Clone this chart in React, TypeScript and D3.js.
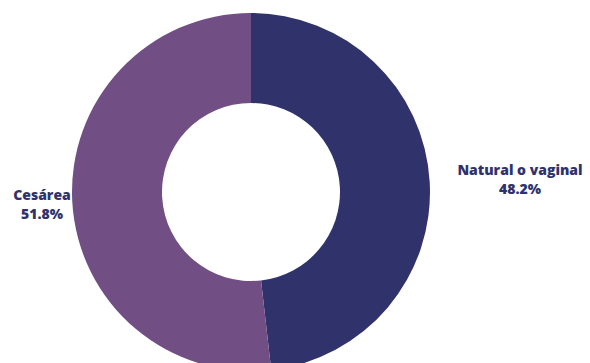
import React from "react";
import * as d3 from "d3";

const categories = ["Natural o vaginal", "Cesárea"];
const values = [48.2, 51.8];
const labels = ["48.2%", "51.8%"];
const colors = ["#30336b", "#714f85"];

export default function App() {
  const width = 590, height = 363;
  const cx = 251, cy = 192, outerR = 179, innerR = 89;
  const pie = d3.pie<number>().sort(null)(values);
  const arc = d3.arc<d3.PieArcDatum<number>>().innerRadius(innerR).outerRadius(outerR);
  const labelPos = [
    { x: 520, y: 175 },
    { x: 42, y: 200 },
  ];
  return (
    <svg width={width} height={height} style={{ position: "absolute", left: 0, top: 0 }}>
      <rect width={width} height={height} fill="#ffffff" />
      <g transform={`translate(${cx},${cy})`}>
        {pie.map((d, i) => (
          <path key={i} d={arc(d) || ""} fill={colors[i]} />
        ))}
      </g>
      {categories.map((c, i) => (
        <text key={c} x={labelPos[i].x} y={labelPos[i].y} textAnchor="middle"
          fontFamily="'Open Sans', sans-serif" fontWeight={800} fontSize={14} fill="#30336b">
          <tspan x={labelPos[i].x}>{c}</tspan>
          <tspan x={labelPos[i].x} dy={19}>{labels[i]}</tspan>
        </text>
      ))}
    </svg>
  );
}
